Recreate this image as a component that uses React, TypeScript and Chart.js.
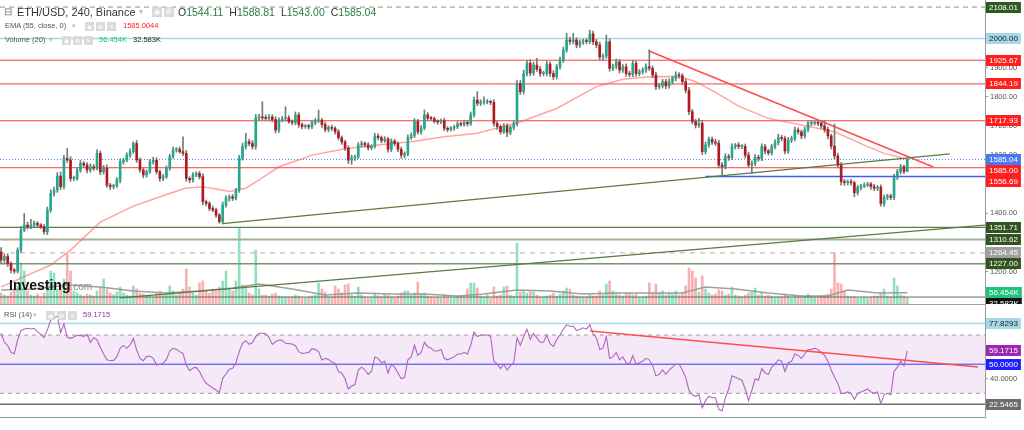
import React, { useEffect, useRef } from 'react';
import { Chart, registerables } from 'chart.js';
Chart.register(...registerables);

const FONT = '"Liberation Sans", Arial, Helvetica, sans-serif';

// ---------- time axis ----------
const firstCandle = '2020-07-15T16:00:00Z';
const candleHours = 4;
const tickDates = ['2020-07-16', '2020-07-19', '2020-07-22', '2020-07-25', '2020-07-28', '2020-08-01', '2020-08-04', '2020-08-07', '2020-08-10', '2020-08-13', '2020-08-16', '2020-08-19', '2020-08-22', '2020-08-25', '2020-08-28', '2020-09-01'];
const tickLabels = ['16', '19', '22', '25', '28', 'Aug', '4', '7', '10', '13', '16', '19', '22', '25', '28', 'Sep'];

// ---------- candles (ETH/USD 4h, Binance) ----------
const firstOpen = 1268;
const closes = [
  1240, 1252, 1228, 1206, 1202, 1274, 1343, 1360, 1354, 1360,
  1366, 1360, 1354, 1337, 1412, 1469, 1480, 1528, 1492, 1589,
  1583, 1520, 1520, 1549, 1572, 1566, 1549, 1560, 1555, 1606,
  1543, 1555, 1497, 1492, 1495, 1515, 1577, 1583, 1600, 1612,
  1640, 1583, 1549, 1532, 1543, 1577, 1583, 1543, 1520, 1526,
  1555, 1595, 1618, 1620, 1612, 1606, 1520, 1515, 1532, 1537,
  1526, 1440, 1434, 1417, 1412, 1394, 1372, 1429, 1452, 1457,
  1452, 1480, 1589, 1629, 1646, 1640, 1630, 1728, 1730, 1728,
  1726, 1731, 1722, 1686, 1720, 1725, 1728, 1715, 1712, 1738,
  1705, 1698, 1700, 1697, 1712, 1718, 1720, 1705, 1688, 1695,
  1692, 1680, 1660, 1645, 1624, 1583, 1590, 1594, 1635, 1640,
  1635, 1625, 1630, 1665, 1660, 1650, 1655, 1620, 1648, 1640,
  1620, 1600, 1605, 1660, 1668, 1715, 1680, 1693, 1738, 1727,
  1725, 1716, 1714, 1718, 1692, 1688, 1693, 1697, 1707, 1705,
  1712, 1708, 1738, 1789, 1778, 1782, 1782, 1783, 1781, 1709,
  1698, 1680, 1700, 1678, 1695, 1708, 1846, 1818, 1880, 1915,
  1882, 1909, 1895, 1880, 1880, 1912, 1880, 1869, 1903, 1926,
  1961, 1995, 1990, 1995, 1978, 1988, 1992, 1990, 2016, 1989,
  1978, 1937, 1940, 1989, 1898, 1904, 1920, 1892, 1903, 1880,
  1877, 1915, 1880, 1886, 1892, 1903, 1898, 1875, 1835, 1838,
  1852, 1838, 1852, 1863, 1875, 1872, 1852, 1823, 1749, 1715,
  1703, 1709, 1612, 1635, 1654, 1645, 1641, 1566, 1560, 1595,
  1592, 1629, 1635, 1630, 1630, 1600, 1566, 1572, 1592, 1589,
  1629, 1614, 1608, 1629, 1643, 1660, 1657, 1614, 1651, 1657,
  1686, 1680, 1666, 1688, 1709, 1709, 1711, 1709, 1700, 1688,
  1666, 1631, 1597, 1566, 1509, 1506, 1509, 1505, 1471, 1489,
  1494, 1497, 1501, 1492, 1486, 1490, 1434, 1455, 1460, 1455,
  1524, 1543, 1560, 1544.11, 1585.04,
];
const wickUp = [
  15, 8, 10, 6, 5, 8, 12, 40, 10, 20,
  8, 6, 5, 8, 10, 12, 10, 12, 14, 10,
  34, 12, 8, 8, 10, 6, 8, 10, 8, 12,
  8, 10, 12, 6, 5, 8, 10, 6, 8, 10,
  6, 10, 8, 6, 6, 8, 10, 8, 6, 8,
  8, 8, 10, 6, 8, 51, 10, 6, 8, 6,
  8, 10, 6, 6, 8, 6, 6, 10, 8, 6,
  8, 6, 10, 12, 29, 8, 10, 12, 10, 53,
  10, 8, 8, 10, 8, 8, 38, 8, 6, 10,
  8, 6, 5, 6, 8, 8, 35, 6, 8, 6,
  8, 6, 8, 6, 6, 8, 10, 6, 8, 8,
  6, 8, 6, 10, 8, 6, 8, 6, 8, 6,
  6, 8, 6, 10, 8, 10, 8, 8, 17, 8,
  6, 6, 5, 6, 8, 6, 5, 6, 8, 6,
  6, 6, 10, 10, 29, 8, 18, 8, 6, 10,
  8, 6, 8, 8, 6, 8, 10, 10, 12, 10,
  12, 10, 23, 10, 8, 10, 8, 10, 8, 10,
  10, 23, 10, 23, 8, 8, 6, 8, 13, 10,
  8, 10, 8, 23, 10, 8, 10, 8, 8, 10,
  8, 10, 8, 8, 8, 10, 58, 8, 10, 8,
  8, 8, 10, 8, 11, 8, 8, 8, 10, 8,
  8, 17, 10, 10, 8, 8, 10, 10, 8, 10,
  8, 10, 5, 8, 6, 8, 10, 8, 10, 8,
  10, 8, 6, 8, 10, 12, 8, 8, 10, 8,
  10, 8, 6, 8, 8, 9, 6, 8, 6, 18,
  8, 6, 76, 10, 8, 8, 6, 8, 6, 8,
  6, 8, 6, 6, 8, 6, 8, 8, 6, 6,
  10, 8, 8, 6, 3.77,
];
const wickDn = [
  10, 8, 10, 10, 8, 6, 8, 6, 8, 6,
  6, 8, 6, 8, 10, 8, 10, 8, 10, 8,
  8, 10, 8, 6, 8, 8, 10, 8, 8, 6,
  10, 8, 8, 10, 8, 6, 10, 8, 6, 8,
  6, 8, 8, 10, 8, 6, 8, 8, 10, 8,
  6, 8, 6, 8, 6, 8, 10, 10, 8, 6,
  8, 10, 8, 8, 6, 8, 6, 8, 8, 10,
  8, 6, 8, 6, 8, 8, 10, 10, 8, 8,
  6, 8, 8, 10, 8, 6, 8, 6, 8, 8,
  10, 8, 6, 8, 6, 8, 6, 10, 8, 8,
  8, 8, 8, 8, 8, 12, 15, 8, 6, 8,
  8, 8, 6, 6, 8, 8, 6, 10, 8, 8,
  8, 11, 10, 8, 6, 8, 8, 8, 6, 8,
  6, 6, 8, 6, 8, 8, 6, 8, 6, 6,
  6, 8, 6, 8, 8, 8, 8, 6, 8, 10,
  10, 8, 6, 15, 8, 8, 8, 10, 8, 8,
  10, 8, 8, 10, 8, 8, 10, 10, 8, 8,
  8, 8, 10, 8, 10, 8, 8, 8, 8, 10,
  10, 10, 12, 8, 10, 8, 8, 10, 8, 10,
  8, 8, 10, 8, 8, 8, 8, 10, 10, 8,
  8, 10, 8, 8, 8, 8, 10, 10, 10, 8,
  10, 8, 10, 8, 8, 8, 8, 10, 28, 8,
  10, 8, 8, 8, 8, 10, 8, 29, 8, 10,
  8, 10, 8, 8, 8, 8, 8, 10, 8, 8,
  8, 8, 10, 8, 8, 8, 6, 8, 8, 10,
  10, 10, 10, 10, 12, 10, 8, 8, 14, 8,
  8, 6, 6, 10, 8, 8, 9, 10, 8, 8,
  8, 8, 8, 8, 1.11,
];
// volume in thousands
const volumes = [
  55, 45, 40, 60, 75, 90, 205, 165, 65, 45,
  40, 50, 35, 55, 115, 165, 155, 75, 85, 125,
  250, 165, 65, 55, 45, 40, 50, 45, 40, 65,
  85, 125, 75, 55, 45, 60, 85, 55, 45, 40,
  90, 75, 55, 50, 40, 45, 35, 55, 65, 45,
  55, 90, 65, 45, 55, 75, 175, 85, 55, 45,
  105, 115, 65, 55, 75, 65, 85, 115, 165, 75,
  65, 115, 380, 95, 90, 55, 45, 270, 75, 45,
  45, 40, 50, 55, 40, 35, 35, 35, 35, 45,
  40, 30, 30, 35, 40, 45, 105, 75, 60, 35,
  35, 90, 75, 55, 95, 100, 45, 40, 85, 45,
  35, 30, 35, 55, 40, 35, 50, 45, 35, 30,
  40, 55, 65, 65, 45, 55, 110, 50, 55, 40,
  35, 30, 35, 30, 45, 35, 30, 30, 35, 40,
  35, 75, 105, 105, 80, 40, 35, 45, 30, 85,
  40, 45, 85, 90, 45, 40, 305, 60, 65, 55,
  65, 60, 45, 35, 35, 40, 45, 55, 40, 50,
  65, 80, 75, 45, 40, 35, 35, 35, 45, 40,
  40, 65, 45, 100, 115, 65, 55, 45, 40, 50,
  55, 45, 50, 35, 35, 40, 105, 55, 100, 55,
  65, 45, 55, 50, 65, 45, 55, 90, 180, 165,
  130, 60, 140, 75, 55, 45, 50, 70, 65, 45,
  50, 85, 45, 40, 35, 45, 55, 60, 80, 45,
  55, 40, 45, 40, 35, 35, 35, 50, 40, 30,
  40, 35, 30, 35, 50, 35, 30, 30, 40, 45,
  50, 75, 255, 105, 100, 65, 40, 35, 35, 30,
  30, 35, 30, 35, 40, 40, 55, 75, 40, 35,
  130, 90, 45, 40, 32.583,
];
const rsiValues = [
  71.2, 65.0, 62.7, 58.1, 57.2, 66.6, 73.0, 74.1, 74.6, 74.1,
  74.6, 72.3, 70.5, 68.2, 73.5, 80.3, 81.5, 83.1, 71.6, 77.6,
  68.4, 67.7, 68.6, 69.8, 69.6, 69.1, 70.3, 65.0, 68.2, 66.6,
  61.6, 57.0, 53.1, 52.4, 52.6, 55.2, 60.9, 62.9, 60.9, 63.2,
  67.7, 59.7, 54.0, 52.4, 55.2, 55.6, 54.0, 49.4, 49.9, 50.6,
  53.3, 59.0, 60.9, 60.2, 58.6, 57.4, 49.4, 45.6, 47.4, 47.8,
  44.9, 40.3, 36.9, 35.3, 33.7, 32.3, 30.4, 40.3, 43.3, 46.5,
  47.2, 51.0, 58.6, 64.3, 66.1, 63.6, 64.8, 68.9, 71.2, 71.2,
  70.9, 68.4, 63.6, 65.4, 66.6, 66.4, 64.3, 64.1, 63.9, 62.7,
  58.6, 57.4, 57.7, 58.1, 60.6, 60.0, 58.6, 52.9, 54.0, 53.3,
  51.5, 50.6, 44.9, 44, 40, 33, 35, 36, 46, 48,
  46, 43, 45, 55, 54, 51, 52, 44, 50, 48,
  44, 40, 41, 53, 55, 63, 56, 58, 65, 62,
  61, 59, 59, 60, 54, 53, 54, 55, 57, 57,
  58, 57, 63, 72, 69, 70, 70, 70, 69, 52,
  50, 47, 50, 46, 49, 51, 68, 63, 69, 74,
  67, 71, 68, 65, 65, 70, 64, 62, 67, 70,
  74, 77, 76, 76, 73, 74, 75, 74, 77, 71,
  68, 60, 61, 69, 54, 55, 58, 53, 55, 51,
  50, 56, 50, 51, 52, 54, 53, 49, 42, 43,
  46, 43, 46, 48, 50, 50, 46, 41, 32, 29,
  28, 29, 20, 25, 28, 27, 27, 19, 18, 27,
  33, 42, 41, 40, 39, 33, 25, 32, 40, 39,
  47, 44, 43, 48, 50, 53, 52, 45, 51, 52,
  57, 56, 54, 57, 60, 60, 61, 60, 58, 56,
  52, 46, 41, 37, 30, 30, 31, 30, 26, 30,
  31, 32, 33, 31, 30, 31, 23, 29, 30, 29,
  45, 48, 52, 49, 59.1715,
];

// EMA(55) read at candle indexes
const emaIdx = [0, 15, 21, 30, 40, 50, 56, 61, 65, 69, 74, 80, 84, 90, 94, 104, 114, 124, 134, 144, 149, 156, 168, 180, 188, 196, 202, 206, 210, 216, 223, 232, 242, 252, 262, 267, 272, 274];
const emaVal = [1148, 1223, 1274, 1370, 1425, 1465, 1487, 1491, 1484, 1475, 1486, 1530, 1560, 1583, 1600, 1622, 1635, 1646, 1663, 1675, 1690, 1710, 1760, 1835, 1860, 1869, 1870, 1867, 1852, 1815, 1768, 1726, 1703, 1680, 1629, 1606, 1592, 1585.0044];
// Volume MA(20) read at candle indexes (thousands)
const vmaIdx = [0, 10, 20, 30, 40, 50, 60, 70, 78, 88, 98, 108, 118, 128, 138, 146, 156, 166, 176, 186, 196, 206, 213, 222, 232, 242, 250, 256, 265, 274];
const vmaVal = [70, 75, 95, 85, 65, 55, 65, 80, 100, 75, 45, 55, 50, 50, 40, 50, 70, 65, 50, 55, 55, 55, 85, 75, 55, 40, 40, 70, 55, 56.454];

// drawn levels and lines
const priceLevels = [2108.01, 2000, 1925.67, 1844.19, 1717.93, 1556.69, 1351.71, 1310.62, 1264.45, 1227.0, 1113];
const blueRayStart = 213;
const blueRayLevel = 1527;
const greenTrend1X = [66.8, 286.9];
const greenTrend1Y = [1364.6, 1604.5];
const greenTrend2X = [36, 297.5];
const greenTrend2Y = [1110, 1360];
const redTrendX = [195.7, 281.9];
const redTrendY = [1958, 1559];
const rsiLevels = [77.8293, 70, 50, 30, 22.5465];
const rsiTrendX = [178.1, 295.4];
const rsiTrendY = [72.8, 48.1];

// ---------- view settings ----------
const X_MIN = -0.33;
const X_MAX = 297.5;
const P_MIN = 1089.1;
const P_MAX = 2132.3;
const VOL_MAX = 1520;
const RSI_MIN = 13.79;
const RSI_MAX = 90.59;
const AXIS_W = 39;

const levelStyle: Record<number, any> = {
  2108.01: { color: '#7e9270', width: 1, dash: [5, 4], tag: '#2f5a1f', fg: '#fff' },
  2000: { color: '#a5d9e7', width: 1.5, dash: [], tag: '#a5d9e7', fg: '#1d1d1d' },
  1925.67: { color: '#ff3b3b', width: 1, dash: [], tag: '#ff1f1f', fg: '#fff' },
  1844.19: { color: '#ff3b3b', width: 1, dash: [], tag: '#ff1f1f', fg: '#fff' },
  1717.93: { color: '#ff3b3b', width: 1, dash: [], tag: '#ff1f1f', fg: '#fff' },
  1556.69: { color: '#ff3b3b', width: 1, dash: [], tag: '#ff1f1f', fg: '#fff' },
  1351.71: { color: '#5f7d4c', width: 1.2, dash: [], tag: '#30531f', fg: '#fff' },
  1310.62: { color: '#a2ae95', width: 2, dash: [], tag: '#30531f', fg: '#fff' },
  1264.45: { color: '#b0b0b0', width: 1, dash: [5, 5], tag: '#a0a0a0', fg: '#fff' },
  1227: { color: '#7f9171', width: 1.5, dash: [], tag: '#30531f', fg: '#fff' },
  1113: { color: '#5f6f52', width: 1, dash: [], tag: null, fg: '#fff' },
};

const UP = '#22a88f';
const DOWN = '#b2191e';
const WICK = '#6b7f77';

const t0 = Date.parse(firstCandle);
const dateToIdx = (d: string) => (Date.parse(d + 'T00:00:00Z') - t0) / (candleHours * 3600000);
const tickIdx = tickDates.map(dateToIdx);

function makeTagPlugin(items: any[]) {
  return {
    id: 'tags',
    afterDraw(chart: any) {
      const ctx = chart.ctx;
      const list = items.map((t) => ({ ...t, y: chart.scales[t.axis].getPixelForValue(t.value) }));
      list.sort((a, b) => a.y - b.y || b.value - a.value);
      const h = 11;
      let prev = -1e9;
      const x0 = chart.chartArea.right + 1;
      ctx.save();
      ctx.font = `8px ${FONT}`;
      ctx.textBaseline = 'middle';
      ctx.textAlign = 'left';
      for (const t of list) {
        const y = Math.max(t.y, prev + h);
        prev = y;
        const w = ctx.measureText(t.text).width + 6;
        ctx.fillStyle = t.bg;
        ctx.fillRect(x0, Math.round(y - h / 2), w, h);
        ctx.fillStyle = t.fg;
        ctx.fillText(t.text, x0 + 3, Math.round(y - h / 2) + h / 2 + 0.5);
      }
      ctx.restore();
    },
  };
}

const yAfterFit = (s: any) => {
  s.width = AXIS_W;
  s.paddingTop = 0;
  s.paddingBottom = 0;
};

function lineDs(xs: number[], ys: number[], color: string, width: number, dash: number[] = [], order = 5, axis = 'y', extra: any = {}) {
  return {
    type: 'line',
    data: xs.map((x, i) => ({ x, y: ys[i] })),
    borderColor: color,
    borderWidth: width,
    borderDash: dash,
    pointRadius: 0,
    tension: 0,
    fill: false,
    yAxisID: axis,
    order,
    ...extra,
  };
}

function priceConfig(): any {
  const opens = closes.map((c, i) => (i === 0 ? firstOpen : closes[i - 1]));
  const highs = closes.map((c, i) => Math.max(opens[i], c) + wickUp[i]);
  const lows = closes.map((c, i) => Math.min(opens[i], c) - wickDn[i]);
  const up = closes.map((c, i) => c >= opens[i]);
  const last = closes.length - 1;

  const datasets: any[] = [];
  datasets.push({
    type: 'bar',
    data: volumes.map((v, i) => ({ x: i, y: v })),
    backgroundColor: up.map((u) => (u ? 'rgba(38,194,129,0.5)' : 'rgba(239,83,80,0.45)')),
    barThickness: 2,
    grouped: false,
    yAxisID: 'yVol',
    order: 20,
  });
  datasets.push(lineDs(vmaIdx, vmaVal, 'rgba(150,150,150,0.9)', 1.5, [], 19, 'yVol'));
  for (const v of priceLevels) {
    const st = levelStyle[v];
    datasets.push(lineDs([X_MIN, X_MAX], [v, v], st.color, st.width, st.dash, 8));
  }
  datasets.push(lineDs([X_MIN, X_MAX], [closes[last], closes[last]], '#5c7cf2', 1, [1, 2], 8));
  datasets.push(lineDs([blueRayStart, X_MAX], [blueRayLevel, blueRayLevel], '#4657f5', 1.5, [], 8));
  datasets.push(lineDs(greenTrend1X, greenTrend1Y, '#587a45', 1.2, [], 7));
  datasets.push(lineDs(greenTrend2X, greenTrend2Y, '#587a45', 1.2, [], 7));
  datasets.push(lineDs(redTrendX, redTrendY, '#ff4d4d', 1.5, [], 7));
  datasets.push(lineDs(emaIdx, emaVal, 'rgba(255,90,90,0.55)', 1.5, [], 6));
  datasets.push({
    type: 'bar',
    data: closes.map((c, i) => ({ x: i, y: [lows[i], highs[i]] })),
    backgroundColor: WICK,
    barThickness: 1,
    grouped: false,
    order: 3,
  });
  datasets.push({
    type: 'bar',
    data: closes.map((c, i) => ({ x: i, y: [opens[i], c] })),
    backgroundColor: up.map((u) => (u ? UP : DOWN)),
    barThickness: 2,
    minBarLength: 1,
    grouped: false,
    order: 2,
  });

  const tags: any[] = [];
  for (const v of priceLevels) {
    const st = levelStyle[v];
    if (st.tag) tags.push({ axis: 'y', value: v, text: v.toFixed(2), bg: st.tag, fg: st.fg });
  }
  tags.push({ axis: 'y', value: closes[last], text: closes[last].toFixed(2), bg: '#4a78f0', fg: '#fff' });
  tags.push({ axis: 'y', value: emaVal[emaVal.length - 1], text: emaVal[emaVal.length - 1].toFixed(2), bg: '#ff1f1f', fg: '#fff' });
  tags.push({ axis: 'yVol', value: vmaVal[vmaVal.length - 1], text: vmaVal[vmaVal.length - 1].toFixed(3) + 'K', bg: '#22c17c', fg: '#fff' });
  tags.push({ axis: 'yVol', value: volumes[last], text: volumes[last].toFixed(3) + 'K', bg: '#111', fg: '#fff' });

  return {
    type: 'line',
    data: { datasets },
    options: {
      responsive: false,
      animation: false,
      events: [],
      layout: { padding: 0 },
      plugins: { legend: { display: false }, tooltip: { enabled: false } },
      scales: {
        x: { type: 'linear', min: X_MIN, max: X_MAX, display: false, offset: false, grid: { offset: false } },
        y: {
          type: 'linear',
          position: 'right',
          min: P_MIN,
          max: P_MAX,
          beginAtZero: false,
          afterFit: yAfterFit,
          border: { display: true, color: '#9a9a9a', width: 1 },
          grid: { display: true, drawOnChartArea: false, drawTicks: true, tickLength: 3, color: '#9a9a9a' },
          ticks: {
            stepSize: 100,
            includeBounds: false,
            padding: 2,
            color: '#555',
            font: { size: 7.5, family: FONT },
            callback: (v: any) => (Number(v) < 1150 ? '' : Number(v).toFixed(2)),
          },
        },
        yVol: { type: 'linear', display: false, min: 0, max: VOL_MAX, beginAtZero: true },
      },
    },
    plugins: [makeTagPlugin(tags)],
  };
}

function rsiConfig(): any {
  const last = rsiValues.length - 1;
  const datasets: any[] = [];
  datasets.push(lineDs([X_MIN, X_MAX], [rsiLevels[1], rsiLevels[1]], '#9e9e9e', 1, [4, 4], 9));
  datasets.push(lineDs([X_MIN, X_MAX], [rsiLevels[3], rsiLevels[3]], '#9e9e9e', 1, [4, 4], 9, 'y', { fill: '-1', backgroundColor: 'rgba(156,39,176,0.1)' }));
  datasets.push(lineDs([X_MIN, X_MAX], [rsiLevels[0], rsiLevels[0]], '#a5d9e7', 1.5, [], 8));
  datasets.push(lineDs([X_MIN, X_MAX], [rsiLevels[2], rsiLevels[2]], '#3434ff', 1, [], 8));
  datasets.push(lineDs([X_MIN, X_MAX], [rsiLevels[4], rsiLevels[4]], '#707070', 1.5, [], 8));
  datasets.push(lineDs(rsiValues.map((_, i) => i), rsiValues, '#b064c2', 1.1, [], 4));
  datasets.push(lineDs(rsiTrendX, rsiTrendY, '#ff4d4d', 1.5, [], 3));

  const tags = [
    { axis: 'y', value: rsiLevels[0], text: rsiLevels[0].toFixed(4), bg: '#a5d9e7', fg: '#1d1d1d' },
    { axis: 'y', value: rsiValues[last], text: rsiValues[last].toFixed(4), bg: '#9c27b0', fg: '#fff' },
    { axis: 'y', value: rsiLevels[2], text: rsiLevels[2].toFixed(4), bg: '#1f1fff', fg: '#fff' },
    { axis: 'y', value: rsiLevels[4], text: rsiLevels[4].toFixed(4), bg: '#6b6b6b', fg: '#fff' },
  ];

  return {
    type: 'line',
    data: { datasets },
    options: {
      responsive: false,
      animation: false,
      events: [],
      layout: { padding: 0 },
      plugins: { legend: { display: false }, tooltip: { enabled: false } },
      scales: {
        x: {
          type: 'linear',
          min: X_MIN,
          max: X_MAX,
          offset: false,
          position: 'bottom',
          border: { display: true, color: '#9a9a9a', width: 1 },
          grid: { display: false },
          afterBuildTicks: (s: any) => {
            s.ticks = tickIdx.map((v) => ({ value: v }));
          },
          afterFit: (s: any) => {
            s.height = 13;
            s.paddingLeft = 0;
            s.paddingRight = 0;
          },
          ticks: {
            autoSkip: false,
            maxRotation: 0,
            padding: 3,
            color: '#555',
            font: { size: 8, family: FONT },
            callback: (v: any) => {
              const k = tickIdx.findIndex((t) => Math.abs(t - Number(v)) < 0.01);
              return k >= 0 ? tickLabels[k] : '';
            },
          },
        },
        y: {
          type: 'linear',
          position: 'right',
          min: RSI_MIN,
          max: RSI_MAX,
          afterFit: yAfterFit,
          border: { display: true, color: '#9a9a9a', width: 1 },
          grid: { display: true, drawOnChartArea: false, drawTicks: true, tickLength: 3, color: '#9a9a9a' },
          ticks: {
            stepSize: 20,
            includeBounds: false,
            padding: 2,
            color: '#555',
            font: { size: 7.5, family: FONT },
            callback: (v: any) => Number(v).toFixed(4),
          },
        },
      },
    },
    plugins: [makeTagPlugin(tags)],
  };
}

const ICON_GLYPHS = ['◉', '⚙', '✕'];
function Icons({ n, left, top, size = 9 }: { n: number; left: number; top: number; size?: number }) {
  return (
    <div style={{ position: 'absolute', left, top, display: 'flex', gap: 2 }}>
      {ICON_GLYPHS.slice(0, n).map((g, i) => (
        <span
          key={i}
          style={{
            width: size,
            height: size,
            background: '#dadada',
            color: '#fff',
            fontSize: size - 3,
            lineHeight: size + 'px',
            textAlign: 'center',
            display: 'inline-block',
            fontFamily: '"DejaVu Sans", sans-serif',
          }}
        >
          {g}
        </span>
      ))}
    </div>
  );
}

function Txt({ left, top, size, color, children, weight = 400, lh }: any) {
  return (
    <div style={{ position: 'absolute', left, top, fontSize: size, color, fontWeight: weight, lineHeight: (lh ?? Math.round(size * 1.3)) + 'px', whiteSpace: 'nowrap', fontFamily: FONT }}>
      {children}
    </div>
  );
}

export default function App() {
  const priceRef = useRef<HTMLCanvasElement>(null);
  const rsiRef = useRef<HTMLCanvasElement>(null);
  useEffect(() => {
    const c1 = new Chart(priceRef.current as HTMLCanvasElement, priceConfig());
    const c2 = new Chart(rsiRef.current as HTMLCanvasElement, rsiConfig());
    return () => {
      c1.destroy();
      c2.destroy();
    };
  }, []);
  const last = closes.length - 1;
  const o = closes[last - 1];
  const h = Math.max(o, closes[last]) + wickUp[last];
  const l = Math.min(o, closes[last]) - wickDn[last];
  const green = '#2a7a44';
  return (
    <div style={{ position: 'fixed', left: 0, top: 0, width: 1024, height: 430, background: '#fff', overflow: 'hidden', fontFamily: FONT }}>
      <canvas ref={priceRef} width={1024} height={304} style={{ position: 'absolute', left: 0, top: 0, width: 1024, height: 304 }} />
      <div style={{ position: 'absolute', left: 0, top: 304, width: 986, height: 1, background: '#a0a0a0' }} />
      <canvas ref={rsiRef} width={1024} height={125} style={{ position: 'absolute', left: 0, top: 305, width: 1024, height: 125 }} />

      {/* main legend */}
      <Txt left={4} top={5} size={10} color="#777" lh={14}>⊟</Txt>
      <Txt left={17} top={5} size={11} color="#333" lh={14}>ETH/USD, 240, Binance</Txt>
      <Txt left={139} top={5} size={8} color="#bbb" lh={14}>▾</Txt>
      <Icons n={2} left={152} top={7} size={10} />
      <Txt left={178} top={5} size={10.5} color="#333" lh={14}>
        O<span style={{ color: green }}>{o.toFixed(2)}</span>
        <span style={{ marginLeft: 6 }}>H</span><span style={{ color: green }}>{h.toFixed(2)}</span>
        <span style={{ marginLeft: 6 }}>L</span><span style={{ color: green }}>{l.toFixed(2)}</span>
        <span style={{ marginLeft: 6 }}>C</span><span style={{ color: green }}>{closes[last].toFixed(2)}</span>
      </Txt>

      <Txt left={5} top={21} size={7.5} color="#555" lh={10}>EMA (55, close, 0)</Txt>
      <Txt left={72} top={21} size={7} color="#bbb" lh={10}>▾</Txt>
      <Icons n={3} left={85} top={22} />
      <Txt left={123} top={21} size={7.5} color="#ff1a1a" lh={10}>{emaVal[emaVal.length - 1].toFixed(4)}</Txt>

      <Txt left={5} top={35} size={7.5} color="#555" lh={10}>Volume (20)</Txt>
      <Txt left={49} top={35} size={7} color="#bbb" lh={10}>▾</Txt>
      <Icons n={3} left={62} top={36} />
      <Txt left={99} top={35} size={7.5} color="#22c17c" lh={10}>{vmaVal[vmaVal.length - 1].toFixed(3)}K</Txt>
      <Txt left={133} top={35} size={7.5} color="#222" lh={10}>{volumes[last].toFixed(3)}K</Txt>

      {/* watermark */}
      <Txt left={9} top={278} size={14} color="#111" weight={700} lh={14}>
        Investing<span style={{ fontSize: 10, color: '#8a8a8a', fontWeight: 400 }}>.com</span>
      </Txt>

      {/* RSI legend */}
      <Txt left={4} top={310} size={7.5} color="#555" lh={10}>RSI (14)</Txt>
      <Txt left={33} top={310} size={7} color="#bbb" lh={10}>▾</Txt>
      <Icons n={3} left={46} top={311} />
      <Txt left={83} top={310} size={7.5} color="#9c27b0" lh={10}>{rsiValues[rsiValues.length - 1].toFixed(4)}</Txt>
    </div>
  );
}
